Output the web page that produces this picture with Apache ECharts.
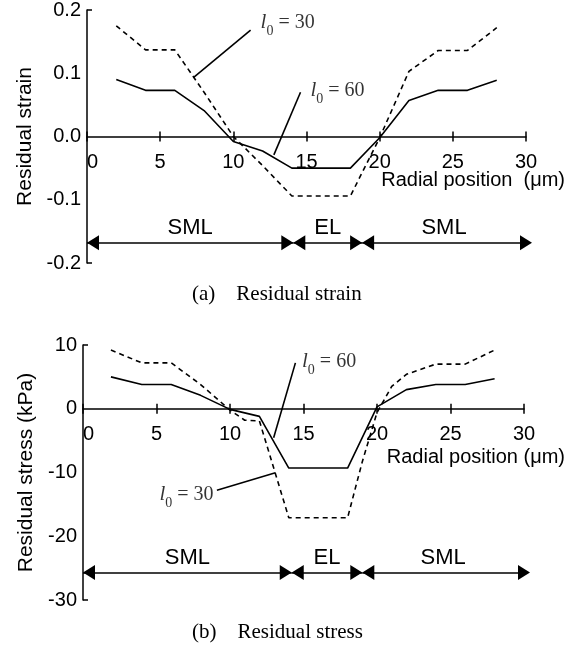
<!DOCTYPE html>
<html>
<head>
<meta charset="utf-8">
<script src="https://cdn.jsdelivr.net/npm/echarts@6/dist/echarts.min.js"></script>
<style>
  html, body { margin: 0; padding: 0; background: #fff; }
  #chart { width: 572px; height: 655px; }
</style>
</head>
<body>
<div id="chart"></div>
<script>
// radial positions (um) and values
var strainX = [2, 4, 6, 8, 10, 12, 14, 18, 20, 22, 24, 26, 28];
var strain60 = [0.090, 0.073, 0.073, 0.041, -0.008, -0.023, -0.050, -0.050, -0.002, 0.057, 0.073, 0.073, 0.089];
var strain30 = [0.175, 0.137, 0.137, 0.070, 0.000, -0.046, -0.094, -0.094, -0.002, 0.103, 0.136, 0.136, 0.172];

var stressX60 = [1.9, 4, 6, 8, 10, 12, 14, 18, 20, 22, 24, 26, 28];
var stress60 = [5.0, 3.8, 3.8, 2.1, -0.1, -1.2, -9.3, -9.3, 0.3, 3.0, 3.8, 3.8, 4.7];
var stressX30 = [1.9, 4, 6, 8, 10, 11, 12, 13, 14, 18, 19, 20, 21, 22, 24, 26, 28];
var stress30 = [9.2, 7.2, 7.2, 3.8, -0.2, -1.8, -1.9, -9.5, -17.1, -17.1, -8.3, -0.6, 3.5, 5.4, 7.0, 7.0, 9.2];

// layer zones (SML | EL | SML)
var zoneNames = ['SML', 'EL', 'SML'];
var strainZoneEdges = [0, 14.1, 18.8, 30];
var stressZoneEdges = [0, 14.2, 19.0, 30];
var strainZoneY = -0.168;
var stressZoneY = -25.7;

// annotation leaders [from, to] and label anchors
var strainLeader30 = [[7.27, 0.093], [11.18, 0.168]];
var strainLeader60 = [[12.77, -0.029], [14.59, 0.070]];
var strainLabel30 = [11.86, 0.180];
var strainLabel60 = [15.27, 0.073];
var stressLeader60 = [[12.97, -4.55], [14.45, 7.2]];
var stressLeader30 = [[9.11, -12.8], [13.09, -10.05]];
var stressLabel60 = [14.9, 7.4];
var stressLabel30 = [8.88, -13.45];

var sans = 'Liberation Sans';
var serif = 'Liberation Serif';

function zip(xs, ys) {
  return xs.map(function (x, i) { return [x, ys[i]]; });
}

// x axis sits on y = 0, so it is lifted from the grid bottom by "lift" px
function xAxes(grid, lift, name, gap, pad) {
  return [{
    gridIndex: grid, type: 'value', position: 'bottom', min: 0, max: 30, interval: 5, offset: -lift,
    axisLine: { onZero: false, lineStyle: { color: '#000', width: 1.5 } },
    axisTick: { show: true, length: 5, lineStyle: { color: '#000', width: 1.5 } },
    axisLabel: { color: '#000', fontSize: 20, fontFamily: sans, margin: 16, alignMinLabel: 'left' },
    splitLine: { show: false },
    name: name, nameLocation: 'end', nameGap: gap, nameMoveOverlap: false,
    nameTextStyle: { color: '#000', fontSize: 20, fontFamily: sans, align: 'right', verticalAlign: 'top', padding: [pad, 0, 0, 0] }
  }, {
    gridIndex: grid, type: 'value', position: 'bottom', min: 0, max: 30, interval: 5, offset: -lift,
    axisLine: { show: false, onZero: false },
    axisTick: { show: true, inside: true, length: 5, lineStyle: { color: '#000', width: 1.5 } },
    axisLabel: { show: false },
    splitLine: { show: false }
  }];
}

function yAxes(grid, min, max, step, fmt, name, gap) {
  return [{
    gridIndex: grid, type: 'value', position: 'left', min: min, max: max, interval: step,
    axisLine: { show: true, onZero: false, lineStyle: { color: '#000', width: 1.5 } },
    axisTick: { show: false },
    axisLabel: { color: '#000', fontSize: 20, fontFamily: sans, margin: 6, formatter: fmt },
    splitLine: { show: false },
    name: name, nameLocation: 'middle', nameGap: gap,
    nameTextStyle: { color: '#000', fontSize: 21, fontFamily: sans }
  }, {
    gridIndex: grid, type: 'value', position: 'left', min: min, max: max, interval: max - min,
    axisLine: { show: false, onZero: false },
    axisTick: { show: true, inside: true, length: 5, lineStyle: { color: '#000', width: 1.5 } },
    axisLabel: { show: false },
    splitLine: { show: false }
  }];
}

function curve(xi, yi, data, dashed) {
  return {
    type: 'line', xAxisIndex: xi, yAxisIndex: yi, data: data,
    symbol: 'none', silent: true,
    lineStyle: { color: '#000', width: 1.6, type: dashed ? [5, 4] : 'solid' }
  };
}

function zones(xi, yi, edges, y) {
  var s = curve(xi, yi, [], false);
  s.markLine = {
    silent: true,
    symbol: ['triangle', 'triangle'],
    symbolSize: [15, 12],
    lineStyle: { color: '#000', type: 'solid', width: 1.5 },
    label: { show: true, position: 'insideMiddleTop', distance: 4, formatter: '{b}', color: '#000', fontSize: 22, fontFamily: sans },
    data: zoneNames.map(function (n, i) {
      var last = i === zoneNames.length - 1;
      return [
        { name: n, coord: [edges[i], y], symbolOffset: [0, 6] },
        { coord: [edges[i + 1], y], symbolOffset: last ? [0, 0] : [0, 6] }
      ];
    })
  };
  return s;
}

function tag(xi, yi, at, val, side) {
  return {
    type: 'scatter', xAxisIndex: xi, yAxisIndex: yi, data: [at],
    symbolSize: 0, silent: true,
    label: {
      show: true, position: side, distance: 0, color: '#000',
      formatter: '{l|l}{s|0}{t| = ' + val + '}',
      rich: {
        l: { fontFamily: serif, fontStyle: 'italic', fontSize: 21, lineHeight: 24, verticalAlign: 'middle' },
        s: { fontFamily: serif, fontSize: 14, lineHeight: 14, verticalAlign: 'bottom', padding: [0, 0, -4, 0] },
        t: { fontFamily: serif, fontSize: 20, lineHeight: 24, verticalAlign: 'middle' }
      }
    }
  };
}

var strainFmt = function (v) { return Math.abs(v) < 1e-9 ? '0.0' : v.toFixed(1); };

var chart = echarts.init(document.getElementById('chart'));
chart.setOption({
  animation: false,
  backgroundColor: '#fff',
  title: [
    { text: '(a)    Residual strain', left: 192, top: 284, padding: 0,
      textStyle: { fontFamily: serif, fontSize: 21, fontWeight: 'normal', color: '#000' } },
    { text: '(b)    Residual stress', left: 192, top: 622, padding: 0,
      textStyle: { fontFamily: serif, fontSize: 21, fontWeight: 'normal', color: '#000' } }
  ],
  grid: [
    { left: 87, right: 46, top: 10, height: 253, outerBoundsMode: 'none', containLabel: false },
    { left: 83, right: 48, top: 345, height: 255, outerBoundsMode: 'none', containLabel: false }
  ],
  xAxis: xAxes(0, 126.5, 'Radial position  (μm)', 39, 34).concat(xAxes(1, 191.25, 'Radial position (μm)', 41, 39)),
  yAxis: yAxes(0, -0.2, 0.2, 0.1, strainFmt, 'Residual strain', 50)
    .concat(yAxes(1, -30, 10, 10, null, 'Residual stress (kPa)', 45)),
  series: [
    curve(0, 0, zip(strainX, strain60), false),
    curve(0, 0, zip(strainX, strain30), true),
    curve(0, 0, strainLeader30, false),
    curve(0, 0, strainLeader60, false),
    zones(0, 0, strainZoneEdges, strainZoneY),
    tag(0, 0, strainLabel30, 30, 'right'),
    tag(0, 0, strainLabel60, 60, 'right'),

    curve(2, 2, zip(stressX60, stress60), false),
    curve(2, 2, zip(stressX30, stress30), true),
    curve(2, 2, stressLeader60, false),
    curve(2, 2, stressLeader30, false),
    zones(2, 2, stressZoneEdges, stressZoneY),
    tag(2, 2, stressLabel60, 60, 'right'),
    tag(2, 2, stressLabel30, 30, 'left')
  ]
});
</script>
</body>
</html>
